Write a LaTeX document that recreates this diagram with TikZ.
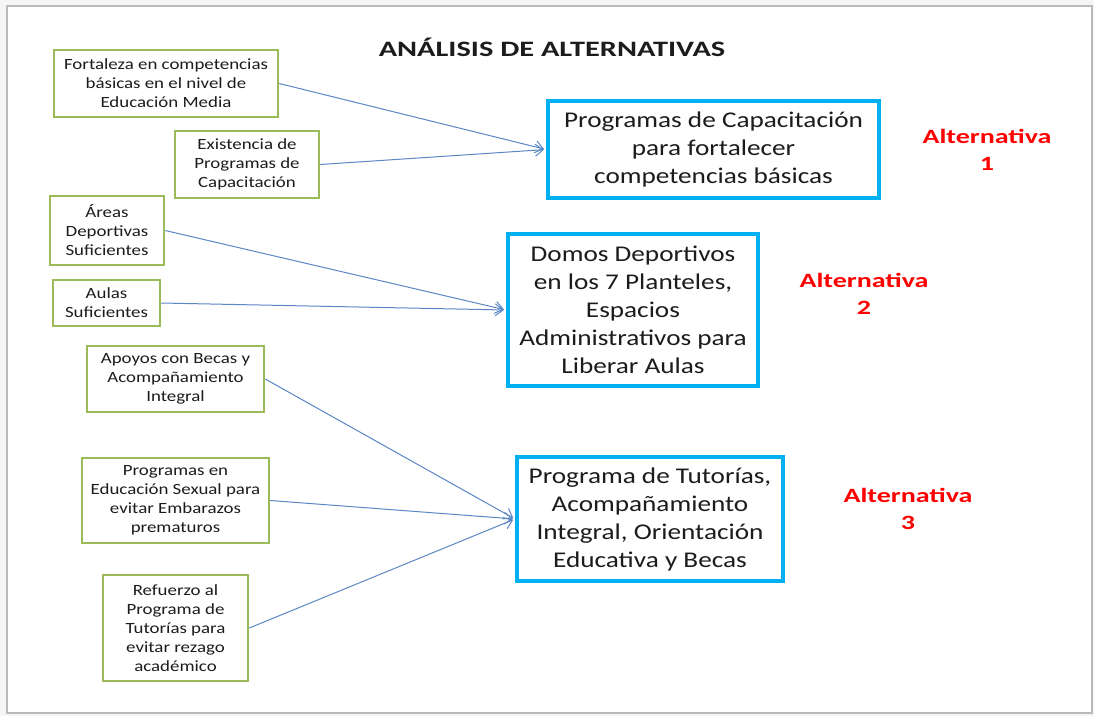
\documentclass[tikz,border=0pt]{standalone}
\usepackage{fontspec}
\setmainfont{Carlito}
\newfontfamily\ancha{Carlito}[FakeStretch=1.21]
\newfontfamily\anchanegra{Carlito}[FakeStretch=1.38]
\usetikzlibrary{arrows.meta}

\definecolor{causegreen}{HTML}{9BBB59}
\definecolor{altblue}{HTML}{00B0F0}
\definecolor{arrowblue}{HTML}{5B87C5}
\definecolor{textdark}{HTML}{1C1C1C}

\tikzset{
  causa/.style={draw=causegreen, line width=2.5pt, fill=white, align=center, inner sep=0pt, text=textdark, font=\ancha\fontsize{15.6}{19}\selectfont},
  alterna/.style={draw=altblue, line width=4pt, fill=white, align=center, inner sep=0pt, text=textdark, font=\ancha\fontsize{22.5}{28}\selectfont},
  etiqueta/.style={text=red, align=center, font=\anchanegra\bfseries\fontsize{20.3}{27}\selectfont},
  flecha/.style={draw=arrowblue, line width=1pt, -{Straight Barb[length=8pt,width=12pt]}}
}

\begin{document}
\begin{tikzpicture}[x=1pt,y=-1pt,shorten >=2pt]
   \useasboundingbox (0,0) rectangle (1094,716);
   \fill[gray!8] (0,0) rectangle (1094,716);
   \draw[gray!55, line width=2pt, fill=white] (7,6) rectangle (1092,713);

   \node[text=textdark, font=\anchanegra\bfseries\fontsize{22}{26}\selectfont] (titulo) at (552,47) {ANÁLISIS DE ALTERNATIVAS};

   % causas
   \node[causa, minimum width=224, minimum height=67] (fort) at (166,83.5) {Fortaleza en competencias\\básicas en el nivel de\\Educación Media};
   \node[causa, minimum width=144, minimum height=67] (exist) at (247,164.5) {Existencia de\\Programas de\\Capacitación};
   \node[causa, minimum width=114, minimum height=69] (areas) at (107,230.5) {Áreas\\Deportivas\\Suficientes};
   \node[causa, minimum width=107, minimum height=46] (aulas) at (106.5,303) {Aulas\\Suficientes};
   \node[causa, minimum width=177, minimum height=66] (apoyos) at (175.5,379) {Apoyos con Becas y\\Acompañamiento\\Integral};
   \node[causa, minimum width=187, minimum height=85] (sexual) at (175.5,500.5) {Programas en\\Educación Sexual para\\evitar Embarazos\\prematuros};
   \node[causa, minimum width=145, minimum height=106] (refuerzo) at (175.5,628) {Refuerzo al\\Programa de\\Tutorías para\\evitar rezago\\académico};

   % alternativas
   \node[alterna, minimum width=331, minimum height=97] (capac) at (713.5,149.5) {Programas de Capacitación\\para fortalecer\\competencias básicas};
   \node[alterna, minimum width=250, minimum height=152] (domos) at (633,310) {Domos Deportivos\\en los 7 Planteles,\\Espacios\\Administrativos para\\Liberar Aulas};
   \node[alterna, minimum width=266, minimum height=124] (tutor) at (650,519) {Programa de Tutorías,\\Acompañamiento\\Integral, Orientación\\Educativa y Becas};

   \node[etiqueta] (alt1) at (987,150) {Alternativa\\1};
   \node[etiqueta] (alt2) at (864,294) {Alternativa\\2};
   \node[etiqueta] (alt3) at (908,509) {Alternativa\\3};

   \draw[flecha] (fort.east) -- (capac.west);
   \draw[flecha] (exist.east) -- (capac.west);
   \draw[flecha] (areas.east) -- (domos.west);
   \draw[flecha] (aulas.east) -- (domos.west);
   \draw[flecha] (apoyos.east) -- (tutor.west);
   \draw[flecha] (sexual.east) -- (tutor.west);
   \draw[flecha] (refuerzo.east) -- (tutor.west);
\end{tikzpicture}
\end{document}
